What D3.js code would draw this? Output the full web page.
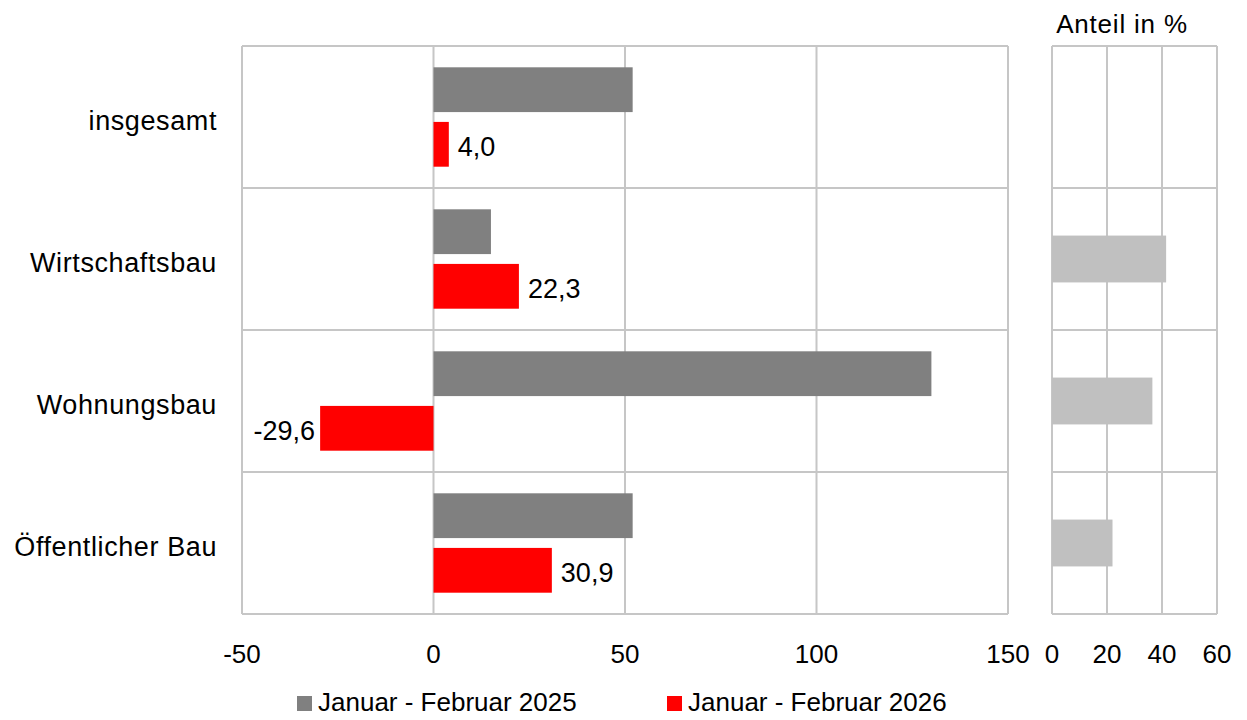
<!DOCTYPE html>
<html>
<head>
<meta charset="utf-8">
<script src="https://cdn.jsdelivr.net/npm/d3@7"></script>
<style>
  body { margin: 0; background: #fff; }
  text { font-family: "Liberation Sans", Arial, sans-serif; fill: #000; }
</style>
</head>
<body>
<script>
// categories and series
var categories = ["insgesamt", "Wirtschaftsbau", "Wohnungsbau", "Öffentlicher Bau"];
var seriesNames = ["Januar - Februar 2025", "Januar - Februar 2026"];
var values2025 = [52.0, 15.0, 130.0, 52.0];
var values2026 = [4.0, 22.3, -29.6, 30.9];
var shares = [null, 41.5, 36.5, 22.0]; // Anteil in %
var mainTicks = [-50, 0, 50, 100, 150];
var shareTicks = [0, 20, 40, 60];

var width = 1247, height = 720;
var colors = ["#808080", "#ff0000"];
var gridColor = "#c6c6c6";

var svg = d3.select("body").append("svg")
    .attr("width", width)
    .attr("height", height);

// main panel
var x = d3.scaleLinear().domain([-50, 150]).range([242, 1008]);
var y = d3.scaleBand().domain(categories).range([46, 614]);
var inner = d3.scaleBand().domain(seriesNames).range([0, y.bandwidth()])
    .paddingInner(0.18).paddingOuter(0.39);

var main = svg.append("g");

// vertical grid
main.selectAll("line.vgrid").data(mainTicks).enter().append("line")
    .attr("x1", function(d){ return x(d); })
    .attr("x2", function(d){ return x(d); })
    .attr("y1", 46).attr("y2", 614)
    .style("stroke", gridColor).style("stroke-width", 2);

// horizontal row separators (incl. top/bottom)
var rowEdges = categories.map(function(c){ return y(c); }).concat([614]);
main.selectAll("line.hgrid").data(rowEdges).enter().append("line")
    .attr("x1", 242).attr("x2", 1008)
    .attr("y1", function(d){ return d; })
    .attr("y2", function(d){ return d; })
    .style("stroke", gridColor).style("stroke-width", 2);

var rows = categories.map(function(c, i){
  return {cat: c, v: [values2025[i], values2026[i]], share: shares[i]};
});

rows.forEach(function(r){
  r.v.forEach(function(v, j){
    main.append("rect")
      .attr("x", x(Math.min(0, v)))
      .attr("width", Math.abs(x(v) - x(0)))
      .attr("y", y(r.cat) + inner(seriesNames[j]))
      .attr("height", inner.bandwidth())
      .style("fill", colors[j]);
  });
  // data label for 2026
  var v = r.v[1];
  main.append("text")
    .attr("x", v < 0 ? x(v) - 5 : x(v) + 9)
    .attr("y", y(r.cat) + inner(seriesNames[1]) + inner.bandwidth() / 2 + 12)
    .attr("text-anchor", v < 0 ? "end" : "start")
    .style("font-size", "27px")
    .text(d3.format(".1f")(v).replace(".", ",").replace("−", "-"));
});

// category labels
main.selectAll("text.cat").data(categories).enter().append("text")
    .attr("x", 217)
    .attr("y", function(d){ return y(d) + y.bandwidth() / 2 + 13; })
    .attr("text-anchor", "end")
    .style("font-size", "27px")
    .style("letter-spacing", "0.6px")
    .text(function(d){ return d; });

// main tick labels
main.selectAll("text.tick").data(mainTicks).enter().append("text")
    .attr("x", function(d){ return x(d); })
    .attr("y", 663)
    .attr("text-anchor", "middle")
    .style("font-size", "26px")
    .text(function(d){ return d; });

// share panel
var xs = d3.scaleLinear().domain([0, 60]).range([1052, 1217]);
var side = svg.append("g");

side.selectAll("line.vgrid").data(shareTicks).enter().append("line")
    .attr("x1", function(d){ return xs(d); })
    .attr("x2", function(d){ return xs(d); })
    .attr("y1", 46).attr("y2", 614)
    .style("stroke", gridColor).style("stroke-width", 2);

side.selectAll("line.hgrid").data(rowEdges).enter().append("line")
    .attr("x1", 1052).attr("x2", 1217)
    .attr("y1", function(d){ return d; })
    .attr("y2", function(d){ return d; })
    .style("stroke", gridColor).style("stroke-width", 2);

var shareH = y.bandwidth() * 0.33;
side.selectAll("rect").data(rows.filter(function(r){ return r.share != null; }))
  .enter().append("rect")
    .attr("x", xs(0))
    .attr("width", function(d){ return xs(d.share) - xs(0); })
    .attr("y", function(d){ return y(d.cat) + (y.bandwidth() - shareH) / 2; })
    .attr("height", shareH)
    .style("fill", "#c0c0c0");

side.selectAll("text.tick").data(shareTicks).enter().append("text")
    .attr("x", function(d){ return xs(d); })
    .attr("y", 663)
    .attr("text-anchor", "middle")
    .style("font-size", "26px")
    .text(function(d){ return d; });

side.append("text")
    .attr("x", 1122).attr("y", 33)
    .attr("text-anchor", "middle")
    .style("font-size", "26px")
    .style("letter-spacing", "0.8px")
    .text("Anteil in %");

// legend
var legendX = [297, 667];
var legend = svg.selectAll("g.legend").data(seriesNames).enter().append("g")
    .attr("transform", function(d, i){ return "translate(" + legendX[i] + ",0)"; });
legend.append("rect")
    .attr("x", 0).attr("y", 696)
    .attr("width", 15).attr("height", 15)
    .style("fill", function(d, i){ return colors[i]; });
legend.append("text")
    .attr("x", 21).attr("y", 711)
    .style("font-size", "26px")
    .text(function(d){ return d; });
</script>
</body>
</html>
